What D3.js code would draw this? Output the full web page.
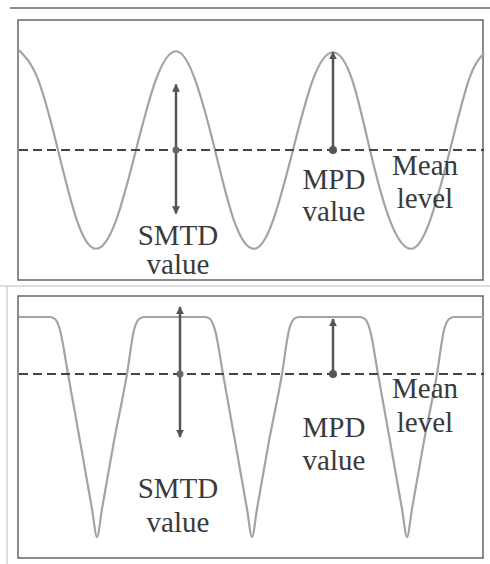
<!DOCTYPE html>
<html>
<head>
<meta charset="utf-8">
<script src="https://cdn.jsdelivr.net/npm/d3@7"></script>
<style>
  body { margin: 0; background: #fff; }
  svg { display: block; }
  text { font-family: "Times New Roman", Times, "Liberation Serif", "Noto Serif", "DejaVu Serif", "Nimbus Roman", FreeSerif, serif; }
</style>
</head>
<body>
<div id="chart"></div>
<script>
// profile data (x = distance along profile, y = height relative to mean level)
const sineX = [0, 19, 39, 58, 77, 97, 117, 137, 157, 176, 196, 215, 235, 254, 274, 294, 314, 333, 351, 371, 392, 411, 431, 450, 465];
const sineY = [99, 70, 0, -70, -98, -70, 0, 70, 98, 70, 0, -70, -98, -70, 0, 70, 97, 70, 0, -70, -98, -70, 0, 70, 96];

const plateauX = [0, 31, 36, 41, 49, 61, 73, 78, 83, 95, 108, 115, 120, 125,
                  186, 191, 196, 204, 216, 228, 233, 238, 250, 263, 270, 275, 280,
                  341, 346, 351, 359, 371, 383, 388, 393, 405, 418, 425, 430, 435, 465];
const plateauY = [57, 57, 55, 44, 0, -67, -135, -163, -135, -67, 0, 44, 55, 57,
                  57, 55, 44, 0, -67, -135, -163, -135, -67, 0, 44, 55, 57,
                  57, 55, 44, 0, -67, -135, -163, -135, -67, 0, 44, 55, 57, 57];

const meanLevel = 0;
// arrows: [x, from, to]
const smtdArrows = [[157, 65, -63], [161, 67, -63]];
const mpdArrows = [[314, 0, 97], [314, 0, 55]];
const labelLines = [
  { x: 159, lines: ["SMTD", "value"] },
  { x: 315, lines: ["MPD", "value"] },
  { x: 406, lines: ["Mean", "level"] }
];

const W = 490, H = 564;
const svg = d3.select("#chart").append("svg")
  .attr("width", W).attr("height", H);

const defs = svg.append("defs");
defs.append("marker")
  .attr("id", "head")
  .attr("viewBox", "0 0 10 10")
  .attr("refX", 9).attr("refY", 5)
  .attr("markerWidth", 3.2).attr("markerHeight", 3.2)
  .attr("orient", "auto-start-reverse")
  .append("path")
  .attr("d", "M0,0 L10,5 L0,10 z")
  .attr("fill", "#555");

// frame lines of the scanned figure
svg.append("line").attr("x1", 10).attr("x2", 490).attr("y1", 8).attr("y2", 8)
  .attr("stroke", "#666").attr("stroke-width", 1.5);
svg.append("line").attr("x1", 0).attr("x2", 490).attr("y1", 286).attr("y2", 286)
  .attr("stroke", "#bbb").attr("stroke-width", 1);
svg.append("line").attr("x1", 7).attr("x2", 7).attr("y1", 286).attr("y2", 564)
  .attr("stroke", "#bbb").attr("stroke-width", 1);

const x = d3.scaleLinear().domain([0, 465]).range([19, 484]);

const panels = [
  { top: 20, bottom: 280, domain: [-129, 129], xs: sineX, ys: sineY, curve: d3.curveNatural,
    smtd: smtdArrows[0], mpd: mpdArrows[0],
    base: [[245, 274], [189, 221], [175, 208]] },
  { top: 296, bottom: 558, domain: [-184, 78], xs: plateauX, ys: plateauY, curve: d3.curveMonotoneX,
    smtd: smtdArrows[1], mpd: mpdArrows[1],
    base: [[498, 532], [437, 470], [398, 432]] }
];

panels.forEach(p => {
  const y = d3.scaleLinear().domain(p.domain).range([p.bottom, p.top]);
  const g = svg.append("g");

  g.append("rect")
    .attr("x", 18).attr("y", p.top)
    .attr("width", 465).attr("height", p.bottom - p.top)
    .attr("fill", "none").attr("stroke", "#666").attr("stroke-width", 1.5);

  const pts = p.xs.map((v, i) => [v, p.ys[i]]);
  g.append("path")
    .datum(pts)
    .attr("d", d3.line().x(d => x(d[0])).y(d => y(d[1])).curve(p.curve))
    .attr("fill", "none")
    .attr("stroke", "#a3a3a3")
    .attr("stroke-width", 2.2);

  g.append("line")
    .attr("x1", x(0)).attr("x2", x(465))
    .attr("y1", y(meanLevel)).attr("y2", y(meanLevel))
    .attr("stroke", "#444").attr("stroke-width", 2)
    .attr("stroke-dasharray", "9,5");

  // SMTD double arrow
  g.append("line")
    .attr("x1", x(p.smtd[0])).attr("x2", x(p.smtd[0]))
    .attr("y1", y(p.smtd[1])).attr("y2", y(p.smtd[2]))
    .attr("stroke", "#555").attr("stroke-width", 2.5)
    .attr("marker-start", "url(#head)").attr("marker-end", "url(#head)");
  g.append("circle").attr("cx", x(p.smtd[0])).attr("cy", y(meanLevel)).attr("r", 3.5).attr("fill", "#666");

  // MPD arrow
  g.append("line")
    .attr("x1", x(p.mpd[0])).attr("x2", x(p.mpd[0]))
    .attr("y1", y(p.mpd[1])).attr("y2", y(p.mpd[2]))
    .attr("stroke", "#555").attr("stroke-width", 2.5)
    .attr("marker-end", "url(#head)");
  g.append("circle").attr("cx", x(p.mpd[0])).attr("cy", y(meanLevel)).attr("r", 4).attr("fill", "#555");

  labelLines.forEach((l, i) => {
    l.lines.forEach((t, j) => {
      g.append("text")
        .attr("font-size", 29)
        .attr("fill", "#3a3a3a")
        .attr("text-anchor", "middle")
        .attr("x", x(l.x))
        .attr("y", p.base[i][j])
        .text(t);
    });
  });
});
</script>
</body>
</html>
